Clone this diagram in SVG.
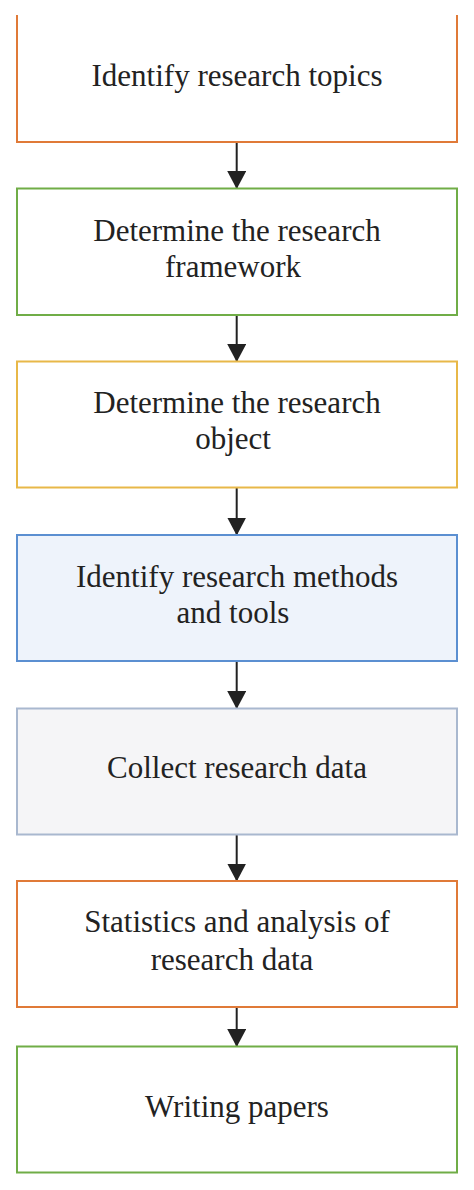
<svg xmlns="http://www.w3.org/2000/svg" width="474" height="1190" viewBox="0 0 474 1190">
<defs>
<style>
.t{font-family:"Liberation Serif","Times New Roman",serif;font-size:31px;fill:#222;text-anchor:middle}
.b{stroke-width:2}
.c{stroke:#222;stroke-width:2;fill:none}
</style>
<marker id="ah" markerUnits="userSpaceOnUse" viewBox="0 0 18 19" markerWidth="18" markerHeight="19" refX="17" refY="9.5" orient="auto">
<path d="M0,0 L18,9.5 L0,19 z" fill="#222"/>
</marker>
</defs>
<rect width="474" height="1190" fill="#fff"/>
<g id="connectors">
<line class="c" x1="236.7" y1="142" x2="236.7" y2="188" marker-end="url(#ah)"/>
<line class="c" x1="236.7" y1="315" x2="236.7" y2="361" marker-end="url(#ah)"/>
<line class="c" x1="236.7" y1="488" x2="236.7" y2="534.5" marker-end="url(#ah)"/>
<line class="c" x1="236.7" y1="661" x2="236.7" y2="708" marker-end="url(#ah)"/>
<line class="c" x1="236.7" y1="834" x2="236.7" y2="880.5" marker-end="url(#ah)"/>
<line class="c" x1="236.7" y1="1007" x2="236.7" y2="1046" marker-end="url(#ah)"/>
</g>
<g id="n1">
<path class="b" d="M17,15 V142 H457 V15" fill="#fff" stroke="#e07a38"/>
<text class="t" x="237" y="86">Identify research topics</text>
</g>
<g id="n2">
<rect class="b" x="17" y="188.5" width="440" height="126.5" fill="#fff" stroke="#70ad47"/>
<text class="t" x="237" y="241">Determine the research</text>
<text class="t" x="233" y="277">framework</text>
</g>
<g id="n3">
<rect class="b" x="17" y="361.5" width="440" height="126" fill="#fff" stroke="#e8b848"/>
<text class="t" x="237" y="413">Determine the research</text>
<text class="t" x="233" y="449">object</text>
</g>
<g id="n4">
<rect class="b" x="17" y="535" width="440" height="126" fill="#eef3fb" stroke="#5b8fd1"/>
<text class="t" x="237" y="586.5">Identify research methods</text>
<text class="t" x="233" y="623">and tools</text>
</g>
<g id="n5">
<rect class="b" x="17" y="708.5" width="440" height="126" fill="#f5f5f7" stroke="#a9b8cf"/>
<text class="t" x="237" y="778">Collect research data</text>
</g>
<g id="n6">
<rect class="b" x="17" y="881" width="440" height="126" fill="#fff" stroke="#e07a38"/>
<text class="t" x="237" y="932">Statistics and analysis of</text>
<text class="t" x="232" y="970">research data</text>
</g>
<g id="n7">
<rect class="b" x="17" y="1046.5" width="440" height="126" fill="#fff" stroke="#70ad47"/>
<text class="t" x="237" y="1116.5">Writing papers</text>
</g>
</svg>
